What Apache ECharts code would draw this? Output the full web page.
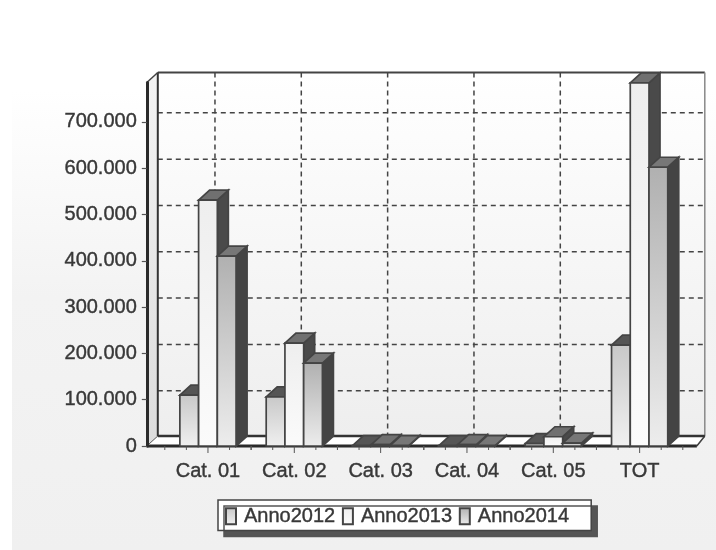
<!DOCTYPE html>
<html>
<head>
<meta charset="utf-8">
<style>html,body{margin:0;padding:0;background:#fff}#c{width:716px;height:550px;filter:blur(0.5px)}</style>
<script src="https://cdn.jsdelivr.net/npm/echarts@6/dist/echarts.min.js"></script>
</head>
<body>
<div id="c"></div>
<script>
const categories = ['Cat. 01', 'Cat. 02', 'Cat. 03', 'Cat. 04', 'Cat. 05', 'TOT'];
const anno2012 = [110000, 106000, 1000, 1000, 5000, 218000];
const anno2013 = [531000, 222000, 3000, 3000, 20000, 784000];
const anno2014 = [410000, 179000, 1000, 1000, 6000, 602000];
const valueTicks = [0, 100000, 200000, 300000, 400000, 500000, 600000, 700000];
const minorSteps = [-0.5, -0.25, 0, 0.25, 0.5];

const DX = 11, DY = 10;
const INK = '#444';
const TEXT = '#383838';

function grad(top, bottom) {
  return {type: 'linear', x: 0, y: 0, x2: 0, y2: 1,
    colorStops: [{offset: 0, color: top}, {offset: 1, color: bottom}]};
}
const looks = [
  {front: grad('#c8c8c8', '#f0f0f0'), top: '#555', side: '#555'},
  {front: grad('#eeeeee', '#fbfbfb'), top: '#707070', side: '#4a4a4a'},
  {front: grad('#b0b0b0', '#ededed'), top: '#777', side: '#444'}
];

function renderFrame(params, api) {
  const cs = params.coordSys;
  const L = cs.x - 18, R = cs.x + cs.width + 14, B = cs.y + cs.height, T = cs.y;
  const bL = L + DX, bR = R + 8, bB = B - DY, bT = T - DY;
  const kids = [];
  const line = (x1, y1, x2, y2, color, w, dash) => kids.push({type: 'line',
    shape: {x1, y1, x2, y2}, style: {stroke: color, lineWidth: w, lineDash: dash || null}});
  kids.push({type: 'rect', shape: {x: bL, y: bT, width: bR - bL, height: bB - bT},
    style: {fill: grad('#ffffff', '#eeeeee')}});
  kids.push({type: 'polygon', shape: {points: [[L, T], [bL, bT], [bL, bB], [L, B]]},
    style: {fill: grad('#f4f4f4', '#dcdcdc')}});
  kids.push({type: 'polygon', shape: {points: [[bL, bB], [bR, bB], [R, B], [L, B]]},
    style: {fill: '#fff', stroke: '#555', lineWidth: 1}});
  valueTicks.slice(1).forEach(v => {
    const y = api.coord([0, v])[1] - DY + 1;
    line(bL, y, bR, y, '#444', 1.5, [5, 4]);
  });
  categories.forEach((c, i) => {
    const x = api.coord([i, 0])[0] + 7;
    line(x, bT, x, bB, '#444', 1.5, [5, 4]);
  });
  line(bL, bT, bR, bT, '#444', 2);
  line(bL, bT, bL, bB, '#333', 2);
  line(L, T, bL, bT, '#444', 1.5);
  line(bR, bT, bR, bB, '#888', 1.5);
  line(bR, bB, R, B, '#444', 1.5);
  line(bL, bB, bR, bB, '#333', 2.5);
  line(L, B, R, B, '#2a2a2a', 3);
  categories.forEach((c, i) => {
    minorSteps.forEach(s => {
      const x = api.coord([i, 0])[0] + s * api.size([1, 0])[0];
      line(x, B, x, B + (s === 0 ? 7 : 4), '#555', 1);
    });
  });
  return {type: 'group', children: kids};
}

function barRenderer(seriesPos) {
  return function (params, api) {
    const cat = api.value(0), val = api.value(1);
    const band = api.size([1, 0])[0];
    const w = band * 0.217;
    const c = api.coord([cat, val]), base = api.coord([cat, 0]);
    const x0 = c[0] - 1.5 * w + seriesPos * w, x1 = x0 + w;
    const yT = c[1], yB = base[1];
    const look = looks[seriesPos];
    const edge = {stroke: INK, lineWidth: 1.7};
    return {type: 'group', children: [
      {type: 'polygon', shape: {points: [[x1, yT], [x1 + DX, yT - DY], [x1 + DX, yB - DY], [x1, yB]]},
        style: Object.assign({fill: look.side}, edge)},
      {type: 'polygon', shape: {points: [[x0, yT], [x0 + DX, yT - DY], [x1 + DX, yT - DY], [x1, yT]]},
        style: Object.assign({fill: look.top}, edge)},
      {type: 'rect', shape: {x: x0, y: yT, width: w, height: yB - yT},
        style: Object.assign({fill: look.front}, edge)}
    ]};
  };
}

function barSeries(name, values, pos) {
  return {
    name, type: 'custom', clip: false, z: 3 + pos,
    itemStyle: {color: looks[pos].front, borderColor: '#444', borderWidth: 1.8},
    encode: {x: 0, y: 1},
    renderItem: barRenderer(pos),
    data: values.map((v, i) => [i, v])
  };
}

const labelFont = {fontFamily: 'Liberation Sans', fontSize: 20, color: TEXT, textBorderColor: TEXT, textBorderWidth: 0.4};

const chart = echarts.init(document.getElementById('c'), null, {renderer: 'canvas'});
chart.setOption({
  animation: false,
  backgroundColor: '#fff',
  graphic: [{type: 'rect', z: -10, silent: true,
    shape: {x: 12, y: 90, width: 704, height: 460},
    style: {fill: {type: 'linear', x: 0, y: 0, x2: 0, y2: 1, colorStops: [
      {offset: 0, color: '#ffffff'}, {offset: 0.45, color: '#f3f3f3'}, {offset: 1, color: '#f0f0f0'}]}}}],
  grid: {left: 164.8, top: 82.5, width: 518, height: 363.5},
  legend: {
    left: 218, top: 500, orient: 'horizontal', icon: 'rect',
    data: ['Anno2012', 'Anno2013', 'Anno2014'],
    itemWidth: 10, itemHeight: 16, itemGap: 6.5,
    padding: [6, 22, 4, 7],
    backgroundColor: '#fff', borderColor: '#444', borderWidth: 1.5,
    shadowColor: '#555', shadowBlur: 0, shadowOffsetX: 6, shadowOffsetY: 6,
    selectedMode: false,
    textStyle: Object.assign({}, labelFont, {padding: [0, 0, 0, 3]})
  },
  xAxis: {
    type: 'category', data: categories,
    axisLine: {show: false}, axisTick: {show: false},
    axisLabel: Object.assign({}, labelFont, {margin: 15, interval: 0}),
    splitLine: {show: false}
  },
  yAxis: {
    type: 'value', min: 0, max: 785000, offset: 18, z: 6,
    axisLine: {show: true, lineStyle: {color: '#2a2a2a', width: 3}},
    axisTick: {show: true, length: 5, lineStyle: {color: '#555', width: 1.2}, customValues: valueTicks},
    axisLabel: Object.assign({}, labelFont, {margin: 10,
      customValues: valueTicks,
      formatter: v => String(v).replace(/\B(?=(\d{3})+$)/g, '.')}),
    splitLine: {show: false}
  },
  series: [
    {type: 'custom', z: 1, clip: false, silent: true, renderItem: renderFrame, data: [[0, 0]], encode: {x: 0, y: 1}},
    barSeries('Anno2012', anno2012, 0),
    barSeries('Anno2013', anno2013, 1),
    barSeries('Anno2014', anno2014, 2)
  ]
});
</script>
</body>
</html>
